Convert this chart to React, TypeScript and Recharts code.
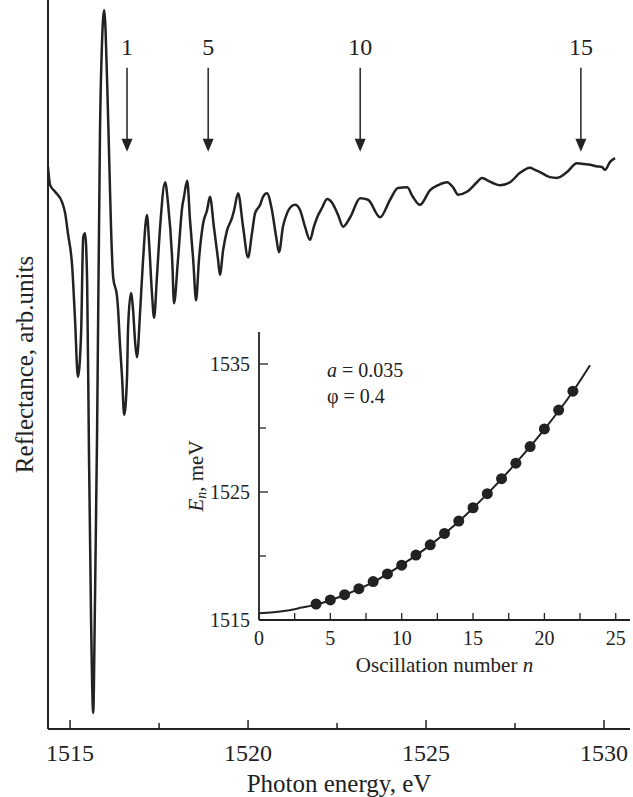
import { ComposedChart, Line, Scatter, XAxis, YAxis } from 'recharts';

// main spectrum (reflectance in arbitrary units)
const energy = [
  1514.38, 1514.44, 1514.58, 1514.78, 1514.86, 1514.94, 1515.06, 1515.14, 1515.22, 1515.31,
  1515.37, 1515.42, 1515.48, 1515.53, 1515.59, 1515.65, 1515.7, 1515.76, 1515.84, 1515.9,
  1515.96, 1516.04, 1516.1, 1516.15, 1516.21, 1516.32, 1516.35, 1516.4, 1516.46, 1516.52,
  1516.6, 1516.63, 1516.71, 1516.77, 1516.83, 1516.88, 1516.97, 1517.05, 1517.16, 1517.22,
  1517.3, 1517.36, 1517.44, 1517.53, 1517.67, 1517.75, 1517.87, 1517.92, 1518.03, 1518.15,
  1518.2, 1518.29, 1518.37, 1518.46, 1518.54, 1518.62, 1518.74, 1518.85, 1518.93, 1519.04,
  1519.16, 1519.21, 1519.3, 1519.41, 1519.55, 1519.61, 1519.72, 1519.86, 1520.0, 1520.11,
  1520.2, 1520.34, 1520.42, 1520.53, 1520.67, 1520.79, 1520.87, 1520.98, 1521.1, 1521.18,
  1521.32, 1521.46, 1521.6, 1521.74, 1521.85, 1521.97, 1522.08, 1522.22, 1522.36, 1522.53,
  1522.67, 1522.87, 1523.15, 1523.37, 1523.71, 1523.99, 1524.21, 1524.47, 1524.63, 1524.83,
  1525.11, 1525.34, 1525.59, 1525.76, 1525.9, 1526.15, 1526.43, 1526.57, 1526.71, 1526.88,
  1527.08, 1527.36, 1527.64, 1527.92, 1528.06, 1528.2, 1528.48, 1528.68, 1528.96, 1529.24,
  1529.44, 1529.61, 1529.78, 1529.94, 1530.03, 1530.17, 1530.31,
];
const reflectance = [
  7.71, 7.46, 7.37, 7.22, 7.08, 6.8, 6.34, 5.61, 4.83, 5.43,
  6.75, 6.8, 6.12, 3.83, 1.5, 0.22, 1.77, 4.1, 8.18, 9.45,
  9.86, 8.9, 7.81, 6.89, 6.2, 5.93, 5.75, 5.29, 4.83, 4.31,
  4.83, 5.51, 5.98, 5.75, 5.29, 5.1, 5.75, 6.43, 7.05, 6.67,
  5.98, 5.64, 6.2, 6.89, 7.5, 7.22, 6.43, 5.84, 6.43, 7.16,
  7.3, 7.52, 6.98, 6.43, 5.88, 6.43, 6.94, 7.12, 7.3, 6.89,
  6.43, 6.23, 6.57, 6.84, 7.01, 7.12, 7.35, 6.89, 6.47, 6.8,
  7.08, 7.19, 7.3, 7.35, 7.12, 6.75, 6.54, 6.89, 7.08, 7.15,
  7.19, 7.12, 6.89, 6.71, 6.89, 7.05, 7.15, 7.27, 7.22, 7.05,
  6.89, 7.02, 7.28, 7.26, 7.02, 7.26, 7.42, 7.43, 7.3, 7.19,
  7.39, 7.46, 7.5, 7.43, 7.33, 7.37, 7.5, 7.56, 7.53, 7.49,
  7.46, 7.5, 7.63, 7.7, 7.67, 7.64, 7.57, 7.56, 7.64, 7.76,
  7.75, 7.74, 7.72, 7.71, 7.67, 7.78, 7.83,
];

// arrows marking oscillation numbers
const arrowLabels = ['1', '5', '10', '15'];
const arrowEnergy = [1516.6, 1518.88, 1523.15, 1529.35];
const arrowTip = [7.92, 7.92, 7.92, 7.92];

// inset: oscillation positions and fitted curve
const oscN = [4, 5, 6, 7, 8, 9, 10, 11, 12, 13, 14, 15, 16, 17, 18, 19, 20, 21, 22];
const oscE = [
  1516.25, 1516.57, 1516.98, 1517.45, 1518.0, 1518.6, 1519.28, 1520.07, 1520.87, 1521.76,
  1522.73, 1523.77, 1524.87, 1526.04, 1527.25, 1528.55, 1529.93, 1531.4, 1532.88,
];
const fitN = [0, 1, 2, 3, 4, 6, 8, 10, 12, 14, 16, 18, 20, 22, 23.2];
const fitE = [
  1515.52, 1515.6, 1515.75, 1515.97, 1516.2, 1516.95, 1517.95, 1519.3, 1520.85, 1522.7,
  1524.85, 1527.25, 1529.9, 1532.85, 1534.9,
];

const spectrum = energy.map((e, i) => ({ energy: e, r: reflectance[i] }));
const arrows = arrowEnergy.map((e, i) => ({ energy: e, r: arrowTip[i], label: arrowLabels[i] }));
const oscData = oscN.map((n, i) => ({ n, E: oscE[i] }));
const fitData = fitN.map((n, i) => ({ n, E: fitE[i] }));

const FONT = '"Liberation Serif", "Times New Roman", serif';
const INK = '#222';

const MainTick = ({ x, y, payload }: any) => {
  const major = payload.value % 5 === 0;
  return (
    <g>
      <line x1={x} x2={x} y1={y} y2={y - (major ? 9 : 6)} stroke={INK} strokeWidth={1.5} />
      {major && (
        <text x={x} y={y + 32} textAnchor="middle" fontFamily={FONT} fontSize={24} fill={INK}>
          {payload.value}
        </text>
      )}
    </g>
  );
};

const Arrow = ({ cx, cy, payload }: any) => (
  <g>
    <line x1={cx} x2={cx} y1={cy - 84} y2={cy - 10} stroke={INK} strokeWidth={1.5} />
    <path d={`M${cx - 5.5},${cy - 13} L${cx + 5.5},${cy - 13} L${cx},${cy} Z`} fill={INK} />
    <text x={cx} y={cy - 97} textAnchor="middle" fontFamily={FONT} fontSize={24} fill={INK}>
      {payload.label}
    </text>
  </g>
);

const Dot = ({ cx, cy }: any) => <circle cx={cx} cy={cy} r={5.5} fill={INK} />;

const InsetXTick = ({ x, y, payload }: any) => {
  const major = payload.value % 5 === 0;
  return (
    <g>
      <line x1={x} x2={x} y1={y} y2={y - 7} stroke={INK} strokeWidth={1.3} />
      {major && (
        <text x={x} y={y + 25} textAnchor="middle" fontFamily={FONT} fontSize={20} fill={INK}>
          {payload.value}
        </text>
      )}
    </g>
  );
};

const InsetYTick = ({ x, y, payload }: any) => {
  const major = payload.value % 10 === 5;
  return (
    <g>
      <line x1={x} x2={x + (major ? 9 : 7)} y1={y} y2={y} stroke={INK} strokeWidth={1.3} />
      {major && (
        <text x={x - 9} y={y + 7} textAnchor="end" fontFamily={FONT} fontSize={20} fill={INK}>
          {payload.value}
        </text>
      )}
    </g>
  );
};

const InsetYLabel = ({ viewBox }: any) => {
  const cx = viewBox.x + 26;
  const cy = viewBox.y + viewBox.height / 2;
  return (
    <text
      transform={`translate(${cx},${cy}) rotate(-90)`}
      textAnchor="middle"
      dominantBaseline="central"
      fontFamily={FONT}
      fontSize={21}
      fill={INK}
    >
      <tspan fontStyle="italic">E</tspan>
      <tspan fontStyle="italic" fontSize={14} dy={5}>n</tspan>
      <tspan dy={-5}>, meV</tspan>
    </text>
  );
};

const InsetXLabel = ({ viewBox }: any) => (
  <text
    x={viewBox.x + viewBox.width / 2}
    y={viewBox.y + 52}
    textAnchor="middle"
    fontFamily={FONT}
    fontSize={21}
    fill={INK}
  >
    Oscillation number <tspan fontStyle="italic">n</tspan>
  </text>
);

export default function App() {
  return (
    <div style={{ position: 'absolute', left: 0, top: 0, width: 633, height: 797, background: '#fff' }}>
      <div style={{ position: 'absolute', left: 0, top: 0 }}>
        <ComposedChart width={633} height={797} margin={{ top: 0, right: 3, bottom: 0, left: 0 }}>
          <XAxis
            type="number"
            dataKey="energy"
            domain={[1514.38, 1530.73]}
            ticks={[1515, 1517.5, 1520, 1522.5, 1525, 1527.5, 1530]}
            tick={<MainTick />}
            tickSize={0}
            tickMargin={0}
            tickLine={false}
            height={68}
            stroke={INK}
            strokeWidth={2}
            allowDataOverflow
            label={{
              value: 'Photon energy, eV',
              position: 'insideBottom',
              offset: 5,
              fontFamily: FONT,
              fontSize: 25,
              fill: INK,
            }}
          />
          <YAxis
            type="number"
            dataKey="r"
            domain={[0, 10]}
            width={48}
            tick={false}
            tickLine={false}
            stroke={INK}
            strokeWidth={2}
            label={{
              value: 'Reflectance, arb.units',
              angle: -90,
              position: 'center',
              fontFamily: FONT,
              fontSize: 25,
              fill: INK,
            }}
          />
          <Line
            data={spectrum}
            dataKey="r"
            type="monotone"
            stroke={INK}
            strokeWidth={2.5}
            dot={false}
            strokeLinejoin="round"
            isAnimationActive={false}
          />
          <Scatter data={arrows} dataKey="r" shape={<Arrow />} isAnimationActive={false} />
        </ComposedChart>
      </div>
      <div style={{ position: 'absolute', left: 170, top: 320 }}>
        <ComposedChart width={463} height={370} margin={{ top: 12, right: 3, bottom: 0, left: 0 }}>
          <XAxis
            type="number"
            dataKey="n"
            domain={[0, 26]}
            ticks={[0, 2.5, 5, 7.5, 10, 12.5, 15, 17.5, 20, 22.5, 25]}
            tick={<InsetXTick />}
            tickSize={0}
            tickMargin={0}
            tickLine={false}
            height={70}
            stroke={INK}
            strokeWidth={1.8}
            label={<InsetXLabel />}
          />
          <YAxis
            type="number"
            dataKey="E"
            domain={[1515, 1537.5]}
            ticks={[1515, 1520, 1525, 1530, 1535]}
            tick={<InsetYTick />}
            tickSize={0}
            tickMargin={0}
            tickLine={false}
            width={89}
            stroke={INK}
            strokeWidth={1.8}
            label={<InsetYLabel />}
          />
          <Line
            data={fitData}
            dataKey="E"
            type="monotone"
            stroke={INK}
            strokeWidth={2}
            dot={false}
            isAnimationActive={false}
          />
          <Scatter data={oscData} dataKey="E" shape={<Dot />} isAnimationActive={false} />
          <text x={157} y={57} fontFamily={FONT} fontSize={20} fill={INK}>
            <tspan fontStyle="italic">a</tspan> = 0.035
          </text>
          <text x={157} y={83} fontFamily={FONT} fontSize={20} fill={INK}>
            φ = 0.4
          </text>
        </ComposedChart>
      </div>
    </div>
  );
}
